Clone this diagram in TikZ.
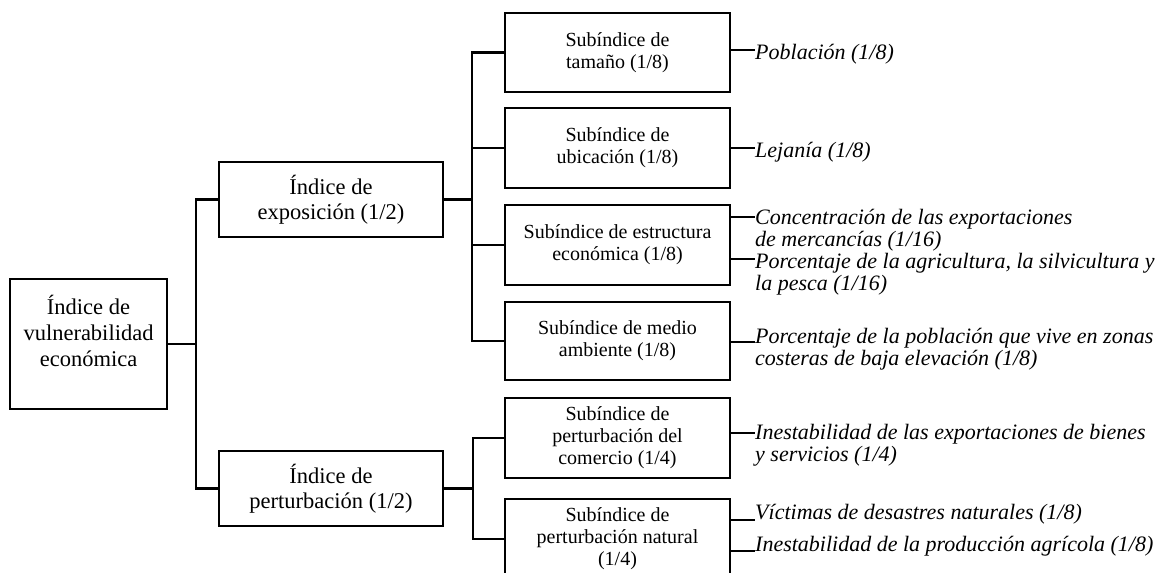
\documentclass[tikz,border=0pt]{standalone}
\usepackage{fontspec}
\setmainfont{Liberation Serif}
\begin{document}
\begin{tikzpicture}[x=1pt,y=-1pt,
  box/.style={draw, line width=2.7pt, inner sep=0pt, align=center},
  lvl/.style={box, minimum width=224pt, minimum height=75pt, font=\fontsize{22.5}{25}\selectfont},
  sub/.style={box, minimum width=225pt, minimum height=80pt, font=\fontsize{20}{22}\selectfont},
  conn/.style={line width=2.5pt},
  thinconn/.style={line width=2pt},
  leaf/.style={anchor=base west, align=left, inner sep=0pt, font=\itshape\fontsize{22}{22}\selectfont}]
\useasboundingbox (0,0) rectangle (1168,573);
\fill[white] (0,0) rectangle (1168,573);
\clip (0,0) rectangle (1168,573);
% main box
\node[box, minimum width=157pt, minimum height=130pt] (main) at (88.5,344) {};
\node[align=center, inner sep=0pt, font=\fontsize{22.5}{26}\selectfont] (maintext) at (88.5,331) {Índice de\\vulnerabilidad\\económica};
% level 1
\node[lvl] (expo) at (331,199.5) {Índice de\\exposición (1/2)};
\node[lvl] (pert) at (331,488.5) {Índice de\\perturbación (1/2)};
% level 2
\node[sub, minimum height=79pt] (b1) at (617.5,52.5) {Subíndice de\\tamaño (1/8)};
\node[sub] (b2) at (617.5,148) {Subíndice de\\ubicación (1/8)};
\node[sub] (b3) at (617.5,245) {Subíndice de estructura\\económica (1/8)};
\node[sub, minimum height=78pt] (b4) at (617.5,341) {Subíndice de medio\\ambiente (1/8)};
\node[sub] (b5) at (617.5,438) {Subíndice de\\perturbación del\\comercio (1/4)};
\node[sub] (b6) at (617.5,539) {Subíndice de\\perturbación natural\\(1/4)};
% junctions
\coordinate (ja) at (196,344);
\coordinate (jb) at (472,0);
\coordinate (jc) at (473,0);
\draw[conn] (main.east) -- (ja);
\draw[conn] (expo.west) -| (ja) |- (pert.west);
\draw[conn] (expo.east) -- (expo.east -| jb);
\draw[conn] (b1.west) -- (b1.west -| jb) |- (b4.west);
\draw[conn] (b2.west) -- (b2.west -| jb);
\draw[conn] (b3.west) -- (b3.west -| jb);
\draw[conn] (pert.east) -- (pert.east -| jc);
\draw[conn] (b5.west) -- (b5.west -| jc) |- (b6.west);
% leaves (base = last line's baseline)
\node[leaf] (l1) at (755,59) {Población (1/8)};
\node[leaf] (l2) at (755,157) {Lejanía (1/8)};
\node[leaf] (l3) at (755,246) {Concentración de las exportaciones\\de mercancías (1/16)};
\node[leaf] (l4) at (755,290) {Porcentaje de la agricultura, la silvicultura y\\la pesca (1/16)};
\node[leaf] (l5) at (755,365) {Porcentaje de la población que vive en zonas\\costeras de baja elevación (1/8)};
\node[leaf] (l6) at (755,461) {Inestabilidad de las exportaciones de bienes\\y servicios (1/4)};
\node[leaf] (l7) at (755,519) {Víctimas de desastres naturales (1/8)};
\node[leaf] (l8) at (755,551) {Inestabilidad de la producción agrícola (1/8)};
\coordinate (c1) at (755,50);
\coordinate (c2) at (755,148);
\coordinate (c3) at (755,217);
\coordinate (c4) at (755,259);
\coordinate (c5) at (755,342);
\coordinate (c6) at (755,433);
\coordinate (c7) at (755,520);
\coordinate (c8) at (755,551);
\draw[thinconn] (c1 -| b1.east) -- (c1);
\draw[thinconn] (c2 -| b2.east) -- (c2);
\draw[thinconn] (c3 -| b3.east) -- (c3);
\draw[thinconn] (c4 -| b3.east) -- (c4);
\draw[thinconn] (c5 -| b4.east) -- (c5);
\draw[thinconn] (c6 -| b5.east) -- (c6);
\draw[thinconn] (c7 -| b6.east) -- (c7);
\draw[thinconn] (c8 -| b6.east) -- (c8);
\end{tikzpicture}
\end{document}
